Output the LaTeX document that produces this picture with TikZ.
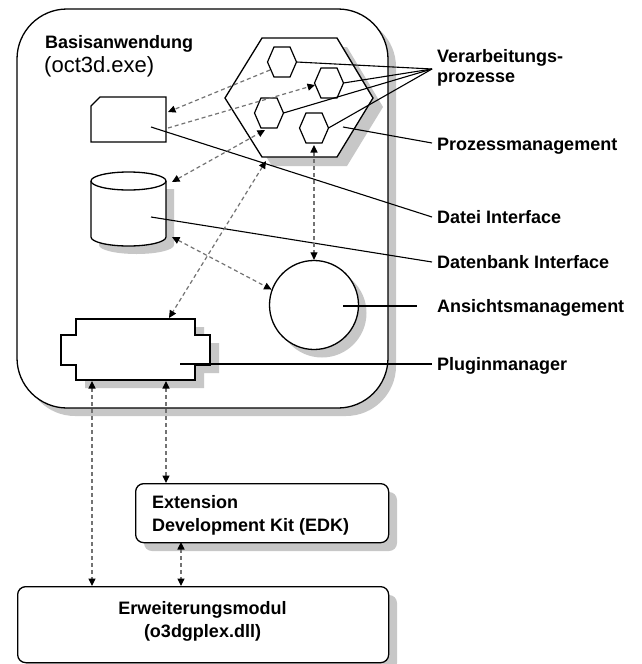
\documentclass[tikz,border=0pt]{standalone}
\usepackage{fontspec}
\setmainfont{Liberation Sans}
\usetikzlibrary{arrows.meta}

\tikzset{
  schatten/.style={fill=black!22, draw=none},
  umriss/.style={draw=black, line width=1.3pt, fill=white},
  fuehrung/.style={draw=black, line width=1.1pt},
  bezug/.style={draw=black!55, line width=1.2pt, dash pattern=on 4pt off 3pt},
  beid/.style={bezug, {Triangle[black,length=7.5pt,width=7pt]}-{Triangle[black,length=7.5pt,width=7pt]}},
  ein/.style={bezug, -{Triangle[black,length=7.5pt,width=7pt]}},
  etikett/.style={font=\bfseries\fontsize{18}{22}\selectfont, inner sep=0pt, anchor=base west},
}

\begin{document}
\begin{tikzpicture}[x=1pt,y=-1pt]
\useasboundingbox (0,0) rectangle (642,664);

% Basisanwendung
\fill[schatten, rounded corners=50pt] (25,17) rectangle (396,416);
\draw[umriss, rounded corners=50pt] (17,9) rectangle (388,408);
\node[etikett] (basis) at (45,48) {Basisanwendung};
\node[font=\fontsize{22}{26}\selectfont, inner sep=0pt, anchor=base west] (exe) at (44,72) {(oct3d.exe)};

% Prozessmanagement mit Verarbeitungsprozessen
\fill[schatten] (235,107) -- (272,47) -- (347,47) -- (383,107) -- (347,166) -- (272,166) -- cycle;
\draw[umriss] (225,98) -- (262,38) -- (337,38) -- (373,98) -- (337,157) -- (262,157) -- cycle;
\foreach \n/\x/\y in {p1/282/62, p2/329/83, p3/269/113, p4/314/128} {
  \coordinate (\n) at (\x,\y);
  \draw[umriss, line width=1.2pt] (\n) +(-14.5,0) -- +(-8,-15) -- +(8,-15) -- +(14.5,0) -- +(8,15) -- +(-8,15) -- cycle;
}

% Datei Interface
\draw[umriss] (91,106) -- (100,97) -- (166,97) -- (166,142) -- (91,142) -- cycle;

% Datenbank Interface
\fill[schatten] (99,189) -- (99,245) arc[start angle=180, end angle=0, x radius=37.5, y radius=9] -- (174,189) -- cycle;
\draw[umriss] (91,181) -- (91,237) arc[start angle=180, end angle=0, x radius=37.5, y radius=9]
  -- (166,181) arc[start angle=0, end angle=-180, x radius=37.5, y radius=9] -- cycle;
\draw[umriss, fill=none] (91,181) arc[start angle=180, end angle=0, x radius=37.5, y radius=9];

% Ansichtsmanagement
\fill[schatten] (322,313) circle[radius=44.5];
\node[umriss, circle, minimum size=89pt, inner sep=0pt] (ansicht) at (314,305) {};

% Pluginmanager
\fill[schatten] (85,327) -- (204,327) -- (204,343) -- (219,343) -- (219,373) -- (204,373) -- (204,388) -- (85,388) -- cycle;
\draw[umriss] (76,319) -- (195,319) -- (195,335) -- (210,335) -- (210,365) -- (195,365) -- (195,380)
  -- (76,380) -- (76,365) -- (61,365) -- (61,335) -- (76,335) -- cycle;

% EDK und Erweiterungsmodul
\fill[schatten, rounded corners=8pt] (144,492) rectangle (397,551);
\node[umriss, rounded corners=8pt, minimum width=253pt, minimum height=59pt, anchor=north west] (edk) at (135,483) {};
\node[etikett] (edk1) at (152,508) {Extension};
\node[etikett] (edk2) at (152,531) {Development Kit (EDK)};
\fill[schatten, rounded corners=8pt] (26,595) rectangle (397,671);
\node[umriss, rounded corners=8pt, minimum width=371pt, minimum height=76pt, anchor=north west] (erw) at (17,586) {};
\node[etikett, anchor=base] (erw1) at (202.5,614) {Erweiterungsmodul};
\node[etikett, anchor=base] (erw2) at (202.5,637) {(o3dgplex.dll)};

% Beschriftungen rechts
\node[etikett] (verarb1) at (437,62) {Verarbeitungs-};
\node[etikett] (verarb2) at (437,82) {prozesse};
\node[etikett] (prozm) at (437,150) {Prozessmanagement};
\node[etikett] (dateil) at (437,223) {Datei Interface};
\node[etikett] (datenl) at (437,268) {Datenbank Interface};
\node[etikett] (ansichtl) at (437,312) {Ansichtsmanagement};
\node[etikett] (pluginl) at (437,370) {Pluginmanager};

% Punkte fuer die Verbindungen
\coordinate (vp) at (432,69);
\coordinate (pm-in) at (343,127);   \coordinate (pm-aus) at (432,143);
\coordinate (df-in) at (151,127);   \coordinate (df-aus) at (432,217);
\coordinate (db-in) at (151,217);   \coordinate (db-aus) at (432,262);
\coordinate (an-in) at (343,306);   \coordinate (an-aus) at (417,306);
\coordinate (pl-in) at (180,364);   \coordinate (pl-aus) at (432,364);
\coordinate (p1-u) at (270,70);     \coordinate (df-o) at (168,112);
\coordinate (df-r) at (168,128);    \coordinate (p2-l) at (315,85);
\coordinate (db-o) at (172,182);    \coordinate (p3-u) at (265,130);
\coordinate (db-u) at (172,237);
\coordinate (pm-u) at (266,161);    \coordinate (pl-o) at (169,318);
\coordinate (p4-u) at (314,145);
\coordinate (pl-u1) at (92,381);    \coordinate (erw-o1) at (92,586);
\coordinate (pl-u2) at (166,381);   \coordinate (edk-o) at (166,483);
\coordinate (edk-u) at (181,542);   \coordinate (erw-o2) at (181,586);

% Fuehrungslinien
\foreach \p/\dx in {p1/14.5, p2/14.5, p3/14.5, p4/14.5}
  \draw[fuehrung] ([xshift=\dx pt]\p) -- (vp);
\draw[fuehrung] (pm-in) -- (pm-aus);
\draw[fuehrung] (df-in) -- (df-aus);
\draw[fuehrung] (db-in) -- (db-aus);
\draw[fuehrung] (an-in) -- (an-aus);
\draw[fuehrung] (pl-in) -- (pl-aus);

% Abhaengigkeiten
\draw[ein] (p1-u) -- (df-o);
\draw[ein] (df-r) -- (p2-l);
\draw[beid] (db-o) -- (p3-u);
\draw[beid] (pm-u) -- (pl-o);
\draw[beid] (p4-u) -- (ansicht.north);
\draw[beid] (db-u) -- (ansicht.160);
\draw[beid] (pl-u1) -- (erw-o1);
\draw[beid] (pl-u2) -- (edk-o);
\draw[beid] (edk-u) -- (erw-o2);
\end{tikzpicture}
\end{document}
